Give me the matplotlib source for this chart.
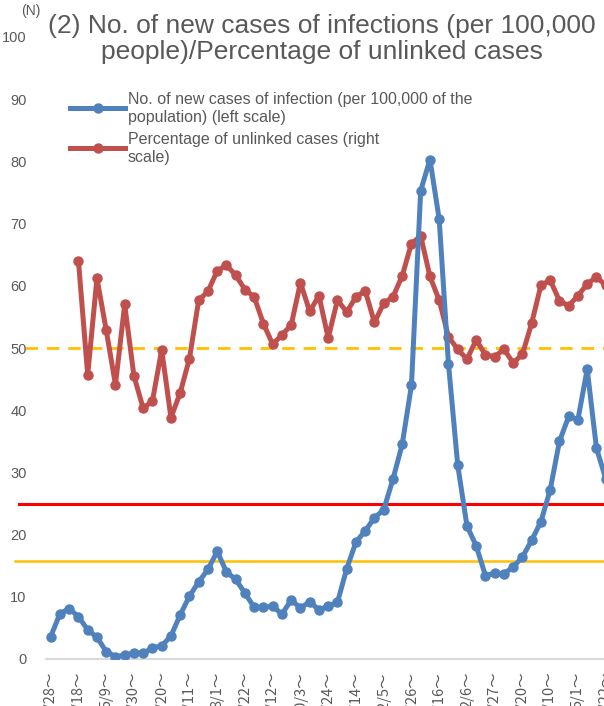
import matplotlib
matplotlib.use("Agg")
import matplotlib.pyplot as plt
from matplotlib.lines import Line2D

# ---- data ----
week_labels = ["3/28～", "4/18～", "5/9～", "5/30～", "6/20～", "7/11～", "8/1～",
               "8/22～", "9/12～", "10/3～", "10/24～", "11/14～", "12/5～", "12/26～",
               "1/16～", "2/6～", "2/27～", "3/20～", "4/10～", "5/1～", "5/22～"]
label_step = 3

new_cases = [3.6, 7.3, 8.1, 6.8, 4.7, 3.5, 1.2, 0.4, 0.6, 1.0,
             0.9, 1.8, 2.1, 3.7, 7.1, 10.1, 12.4, 14.4, 17.3, 14.0,
             12.8, 10.6, 8.3, 8.3, 8.5, 7.2, 9.5, 8.2, 9.2, 7.9,
             8.5, 9.1, 14.5, 18.8, 20.6, 22.7, 24.0, 28.9, 34.5, 44.0,
             75.3, 80.3, 70.7, 47.5, 31.2, 21.4, 18.2, 13.4, 13.8, 13.7,
             14.8, 16.4, 19.1, 22.1, 27.2, 35.0, 39.0, 38.5, 46.6, 33.9,
             29.0]

unlinked_start = 3
unlinked_pct = [64.0, 45.7, 61.2, 52.9, 44.1, 57.0, 45.5, 40.3, 41.5, 49.7,
                38.8, 42.8, 48.3, 57.7, 59.1, 62.4, 63.3, 61.7, 59.4, 58.2,
                53.9, 50.6, 52.1, 53.7, 60.5, 55.9, 58.4, 51.6, 57.7, 55.8,
                58.2, 59.2, 54.1, 57.2, 58.2, 61.6, 66.8, 68.0, 61.5, 57.7,
                51.8, 49.8, 48.2, 51.3, 48.9, 48.6, 49.8, 47.6, 49.0, 54.0,
                60.1, 60.9, 57.6, 56.8, 58.4, 60.3, 61.4, 60.1]

threshold_stage4 = 25
threshold_stage3 = 15.75
threshold_unlinked = 50

y_ticks = [0, 10, 20, 30, 40, 50, 60, 70, 80, 90, 100]

title = "(2) No. of new cases of infections (per 100,000\npeople)/Percentage of unlinked cases"
legend_labels = ["No. of new cases of infection (per 100,000 of the\npopulation) (left scale)",
                 "Percentage of unlinked cases (right\nscale)"]

# ---- style ----
BLUE = "#4F81BD"
RED = "#C0504D"
GRAY = "#595959"
plt.rcParams["font.family"] = ["Liberation Sans", "DejaVu Sans"]

W, H = 604, 706
fig = plt.figure(figsize=(W / 100, H / 100), dpi=100)

ax_left_px, ax_right_px = 46, 660
x0_px, step_px = 50.7, 9.25
ax = fig.add_axes([ax_left_px / W, 47 / H, (ax_right_px - ax_left_px) / W, 622 / H])
ax.set_xlim((ax_left_px - x0_px) / step_px, (ax_right_px - x0_px) / step_px)
ax.set_ylim(0, 100)

x_cases = list(range(len(new_cases)))
x_unl = list(range(unlinked_start, unlinked_start + len(unlinked_pct)))

# reference lines (extend slightly left of plot area)
ax.axhline(threshold_stage3, xmin=-0.05, xmax=1, color="#FFC000", lw=1.8, clip_on=False, zorder=1)
ax.axhline(threshold_stage4, xmin=-0.044, xmax=1, color="#FF0000", lw=2.2, clip_on=False, zorder=1)
ax.axhline(threshold_unlinked, xmin=-0.035, xmax=1, color="#FFC000", lw=2.0,
           ls=(0, (4.5, 3.2)), clip_on=False, zorder=1)

ax.plot(x_unl, unlinked_pct, color=RED, lw=3.6, marker="o", ms=6.5, zorder=3)
ax.plot(x_cases, new_cases, color=BLUE, lw=3.6, marker="o", ms=6.5, zorder=4)

ax.set_yticks(y_ticks)
ax.set_yticklabels([str(v) for v in y_ticks], color=GRAY, fontsize=10.5)
ax.tick_params(axis="y", length=0, pad=14)

ax.set_xticks(list(range(0, label_step * len(week_labels), label_step)))
ax.set_xticklabels(week_labels, rotation=90, color=GRAY, fontsize=10.5,
                   family=["Noto Sans CJK JP", "DejaVu Sans"], va="top", ha="center")
ax.tick_params(axis="x", length=0, pad=9)

for s in ["left", "right", "top"]:
    ax.spines[s].set_visible(False)
ax.spines["bottom"].set_color("#D9D9D9")
ax.spines["bottom"].set_linewidth(1.5)
ax.spines["bottom"].set_zorder(0)

# title and unit
fig.text(322 / W, 1 - 39 / H, title, ha="center", va="center", fontsize=19,
         color=GRAY, linespacing=1.12)
fig.text(21 / W, 1 - 4 / H, "(N)", ha="left", va="top", fontsize=10, color=GRAY)

# legend (manual)
for color, label, cy in [(BLUE, legend_labels[0], 108), (RED, legend_labels[1], 148)]:
    fig.add_artist(Line2D([70 / W, 125 / W], [1 - cy / H, 1 - cy / H], color=color, lw=3.6,
                          transform=fig.transFigure))
    fig.add_artist(Line2D([97.5 / W], [1 - cy / H], color=color, marker="o", ms=6.5,
                          transform=fig.transFigure))
    fig.text(128 / W, 1 - (cy + 0.5) / H, label, ha="left", va="center", fontsize=11.5,
             color=GRAY, linespacing=1.2)

fig.savefig("out.png", dpi=100)
